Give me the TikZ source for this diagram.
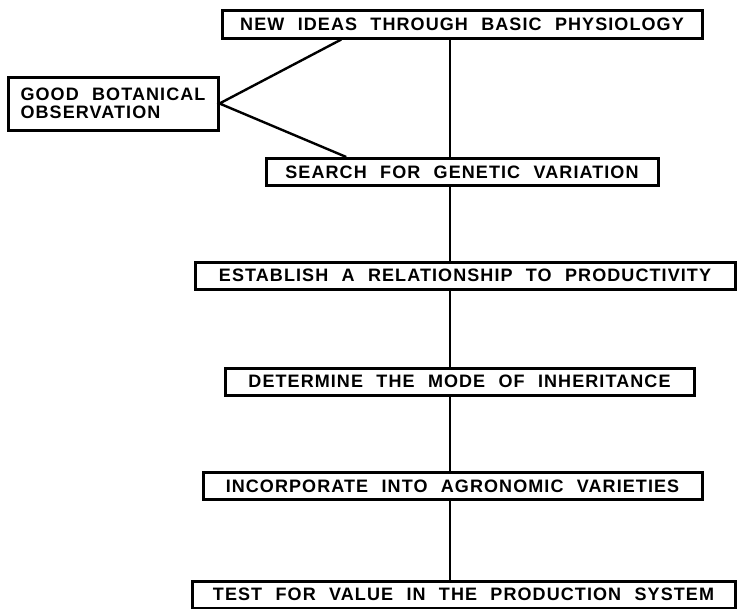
\documentclass[tikz,border=0pt]{standalone}
\usepackage{fontspec}
\setmainfont{Liberation Sans}
\newfontfamily\boxfont[LetterSpace=6,WordSpace=2.2]{Liberation Sans}
\usetikzlibrary{calc}

\begin{document}
\begin{tikzpicture}[
	x=1pt,y=1pt,
	stepbox/.style={
		draw,
		line width=3pt,
		inner sep=0pt,
		minimum height=27pt,
		font=\boxfont\bfseries\fontsize{18}{18}\selectfont,
	},
	link/.style={
		line width=2.4pt,
	}
	]
	\useasboundingbox (0,0) rectangle (738,-608);
	\coordinate (spine) at (450,0);
	% main chain of boxes
	\node[stepbox, minimum width=480pt, minimum height=28pt] (ideas) at (462,-24) {NEW IDEAS THROUGH BASIC PHYSIOLOGY\hspace{6pt}};
	\node[stepbox, minimum width=210pt, minimum height=53pt, align=left] (botany) at (113,-103.5) {GOOD BOTANICAL\\OBSERVATION};
	\node[stepbox, minimum width=392pt] (search) at (462,-172) {SEARCH FOR GENETIC VARIATION\hspace{10pt}};
	\node[stepbox, minimum width=540pt] (relation) at (465,-275.5) {ESTABLISH A RELATIONSHIP TO PRODUCTIVITY};
	\node[stepbox, minimum width=469pt] (mode) at (459.5,-381.5) {DETERMINE THE MODE OF INHERITANCE\hspace{10pt}};
	\node[stepbox, minimum width=499pt] (varieties) at (452.5,-486) {INCORPORATE INTO AGRONOMIC VARIETIES\hspace{10pt}};
	\node[stepbox, minimum width=543pt] (test) at (463.5,-594.5) {TEST FOR VALUE IN THE PRODUCTION SYSTEM};
	% spine
	\foreach \a/\b in {ideas/search,search/relation,relation/mode,mode/varieties,varieties/test}
	\draw[link] (\a.south -| spine) -- (\b.north -| spine);
	% side branch
	\draw[link] ($(ideas.south west)!0.25!(ideas.south east)$) -- (botany.east) -- ($(search.north west)!0.207!(search.north east)$);
\end{tikzpicture}
\end{document}
